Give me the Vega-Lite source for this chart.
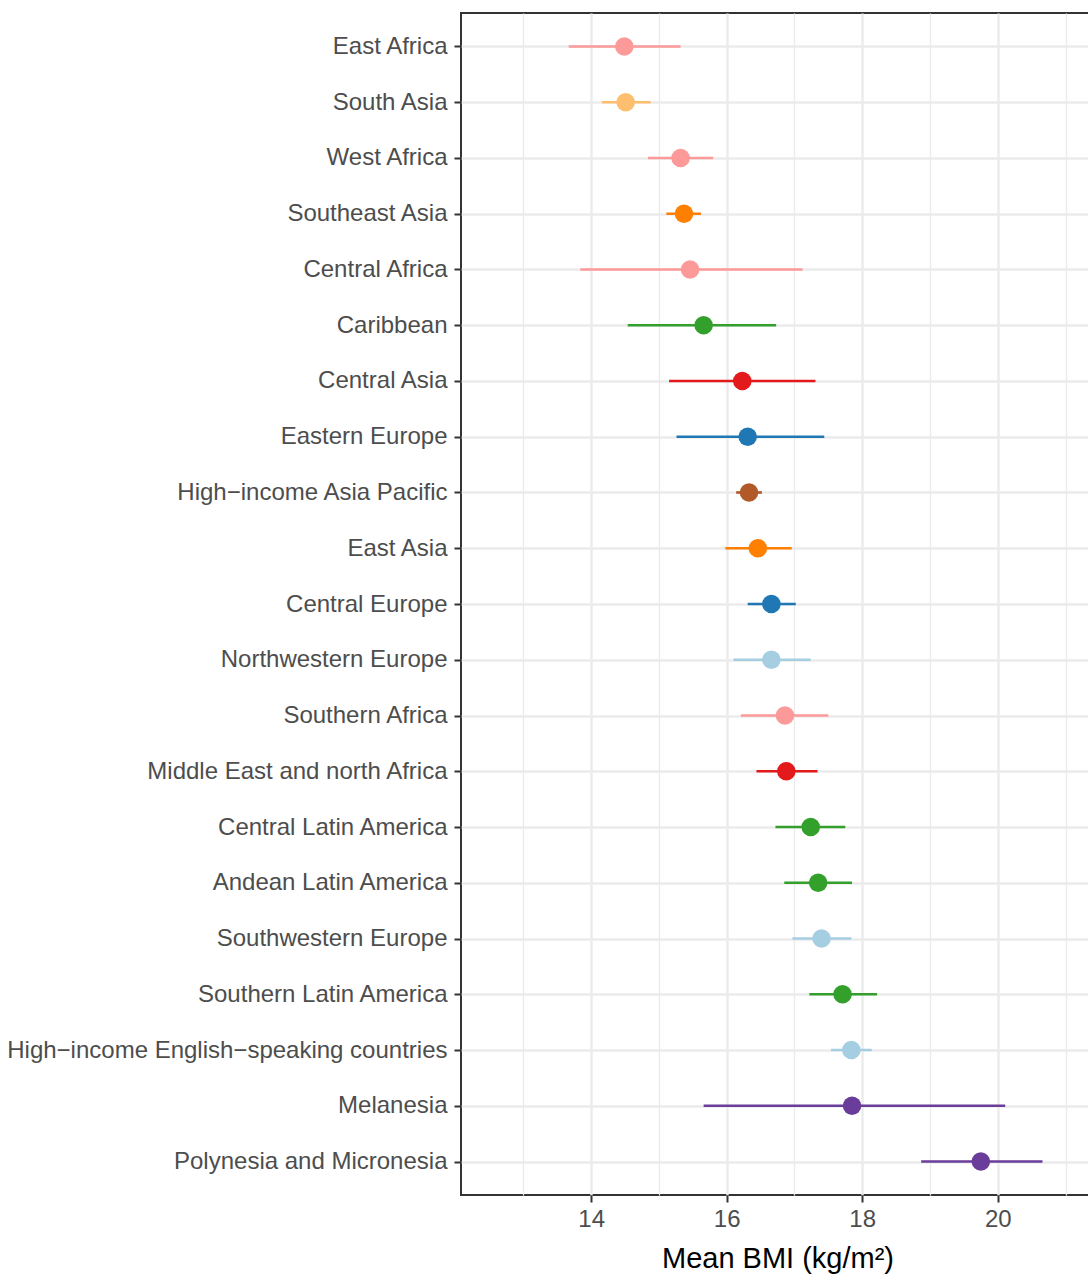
{
  "$schema": "https://vega.github.io/schema/vega-lite/v6.json",
  "width": 633,
  "height": 1182,
  "autosize": {"type": "none"},
  "padding": {"left": 461, "top": 13, "right": 0, "bottom": 82},
  "background": "white",
  "config": {
    "view": {"stroke": "#333333", "strokeWidth": 2},
    "font": "Liberation Sans"
  },
  "data": {
    "values": [
      {"region": "East Africa", "group": "Sub-Saharan Africa", "mean": 14.49, "lower": 13.67, "upper": 15.32},
      {"region": "South Asia", "group": "South Asia", "mean": 14.51, "lower": 14.16, "upper": 14.88},
      {"region": "West Africa", "group": "Sub-Saharan Africa", "mean": 15.32, "lower": 14.84, "upper": 15.8},
      {"region": "Southeast Asia", "group": "East and Southeast Asia", "mean": 15.37, "lower": 15.11, "upper": 15.62},
      {"region": "Central Africa", "group": "Sub-Saharan Africa", "mean": 15.46, "lower": 13.84, "upper": 17.12},
      {"region": "Caribbean", "group": "Latin America and Caribbean", "mean": 15.66, "lower": 14.54, "upper": 16.73},
      {"region": "Central Asia", "group": "Central Asia, Middle East and north Africa", "mean": 16.23, "lower": 15.15, "upper": 17.31},
      {"region": "Eastern Europe", "group": "Central and Eastern Europe", "mean": 16.31, "lower": 15.26, "upper": 17.44},
      {"region": "High−income Asia Pacific", "group": "High-income Asia Pacific", "mean": 16.33, "lower": 16.14, "upper": 16.52},
      {"region": "East Asia", "group": "East and Southeast Asia", "mean": 16.46, "lower": 15.98, "upper": 16.96},
      {"region": "Central Europe", "group": "Central and Eastern Europe", "mean": 16.66, "lower": 16.31, "upper": 17.02},
      {"region": "Northwestern Europe", "group": "High-income Western", "mean": 16.66, "lower": 16.1, "upper": 17.24},
      {"region": "Southern Africa", "group": "Sub-Saharan Africa", "mean": 16.86, "lower": 16.21, "upper": 17.5},
      {"region": "Middle East and north Africa", "group": "Central Asia, Middle East and north Africa", "mean": 16.88, "lower": 16.44, "upper": 17.34},
      {"region": "Central Latin America", "group": "Latin America and Caribbean", "mean": 17.24, "lower": 16.72, "upper": 17.75},
      {"region": "Andean Latin America", "group": "Latin America and Caribbean", "mean": 17.35, "lower": 16.85, "upper": 17.85},
      {"region": "Southwestern Europe", "group": "High-income Western", "mean": 17.4, "lower": 16.97, "upper": 17.84},
      {"region": "Southern Latin America", "group": "Latin America and Caribbean", "mean": 17.71, "lower": 17.22, "upper": 18.22},
      {"region": "High−income English−speaking countries", "group": "High-income Western", "mean": 17.84, "lower": 17.54, "upper": 18.14},
      {"region": "Melanesia", "group": "Oceania", "mean": 17.85, "lower": 15.66, "upper": 20.11},
      {"region": "Polynesia and Micronesia", "group": "Oceania", "mean": 19.75, "lower": 18.87, "upper": 20.66}
    ]
  },
  "encoding": {
    "y": {
      "field": "region",
      "type": "nominal",
      "sort": null,
      "scale": {"type": "point", "padding": 0.6},
      "axis": {
        "title": null,
        "domain": false,
        "grid": true,
        "gridColor": "#EBEBEB",
        "gridWidth": 2.4,
        "ticks": true,
        "tickColor": "#333333",
        "tickWidth": 2,
        "tickSize": 7,
        "labelFont": "Liberation Sans",
        "labelFontSize": 24,
        "labelColor": "#4D4D4D",
        "labelPadding": 7,
        "labelLimit": 0
      }
    },
    "color": {
      "field": "group",
      "type": "nominal",
      "legend": null,
      "scale": {
        "domain": ["Sub-Saharan Africa", "South Asia", "East and Southeast Asia", "Latin America and Caribbean", "Central Asia, Middle East and north Africa", "Central and Eastern Europe", "High-income Western", "High-income Asia Pacific", "Oceania"],
        "range": ["#FB9A99", "#FDBF6F", "#FF7F00", "#33A02C", "#E31A1C", "#1F78B4", "#A6CEE3", "#B15928", "#6A3D9A"]
      }
    }
  },
  "layer": [
    {
      "mark": {"type": "rule", "strokeWidth": 2.6},
      "encoding": {
        "x": {
          "field": "lower",
          "type": "quantitative",
          "scale": {"domain": [12.08, 21.42], "nice": false, "zero": false},
          "axis": {
            "orient": "bottom",
            "values": [13, 15, 17, 19, 21],
            "grid": true,
            "gridColor": "#EBEBEB",
            "gridWidth": 1.3,
            "labels": false,
            "ticks": false,
            "domain": false,
            "title": null
          }
        },
        "x2": {"field": "upper"}
      }
    },
    {
      "mark": {"type": "circle", "size": 345, "opacity": 1},
      "encoding": {
        "x": {
          "field": "mean",
          "type": "quantitative",
          "axis": {
            "orient": "bottom",
            "values": [14, 16, 18, 20],
            "grid": true,
            "gridColor": "#EBEBEB",
            "gridWidth": 2.4,
            "domain": false,
            "ticks": true,
            "tickColor": "#333333",
            "tickWidth": 2,
            "tickSize": 7,
            "labelFont": "Liberation Sans",
            "labelFontSize": 24,
            "labelColor": "#4D4D4D",
            "labelPadding": 5,
            "title": "Mean BMI (kg/m²)",
            "titleFont": "Liberation Sans",
            "titleFontSize": 29,
            "titleFontWeight": "normal",
            "titleColor": "#000000",
            "titlePadding": 13
          }
        }
      }
    }
  ],
  "resolve": {"axis": {"x": "independent"}}
}
